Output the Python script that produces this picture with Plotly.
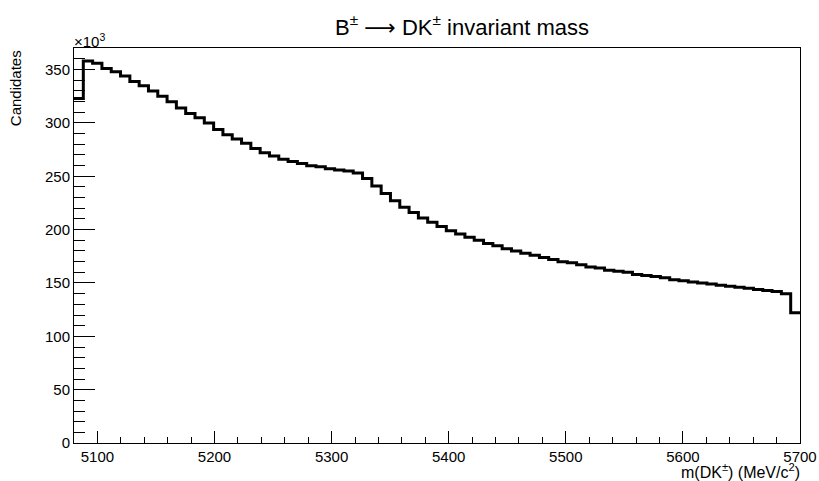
import plotly.graph_objects as go

# B -> DK invariant mass histogram, counts in units of 10^3 per bin
mass_lo = 5080
mass_hi = 5700
n_bins = 78

candidates_k = [
    323, 358, 356, 351, 348, 344, 339, 335, 330, 325,
    320, 314, 309, 305, 300, 294, 289, 285, 281, 276,
    272, 269, 266, 264, 262, 260, 259, 257, 256, 255,
    253, 248, 241, 234, 227, 221, 216, 211, 207, 203,
    199, 196, 193, 190, 187, 185, 182, 180, 178, 176,
    174, 172, 170, 169, 167, 165, 164, 162, 161, 160,
    158, 157, 156, 155, 153, 152, 151, 150, 149, 148,
    147, 146, 145, 144, 143, 142, 140, 122,
]

x_ticks = [5100, 5200, 5300, 5400, 5500, 5600, 5700]
y_ticks = [0, 50, 100, 150, 200, 250, 300, 350]

FONT = "Liberation Sans, Arial, sans-serif"
W, H = 819, 481


def main():
    width = (mass_hi - mass_lo) / n_bins
    edges = [mass_lo + i * width for i in range(n_bins + 1)]
    steps = candidates_k + [candidates_k[-1]]

    fig = go.Figure()
    fig.add_trace(go.Scatter(x=edges, y=steps, mode="lines",
                             line=dict(color="black", width=3, shape="hv"),
                             hoverinfo="skip", showlegend=False))

    arrow = '<span style="font-family:DejaVu Sans">⟶</span>'
    fig.update_layout(
        width=W, height=H,
        margin=dict(l=73.6, r=19, t=48.3, b=37.7),
        paper_bgcolor="white", plot_bgcolor="white",
        font=dict(family=FONT, color="black", size=15),
        title=dict(text="B<sup>±</sup> " + arrow + " DK<sup>±</sup> invariant mass",
                   x=462 / W, xanchor="center", y=1 - 27 / H,
                   yanchor="middle", font=dict(size=22)),
    )
    fig.update_xaxes(range=[mass_lo, mass_hi], tickvals=x_ticks,
                     automargin=False,
                     ticks="inside", ticklen=12, tickcolor="black",
                     showline=True, linecolor="black", linewidth=1,
                     mirror=True, showgrid=False, zeroline=False,
                     minor=dict(dtick=20, ticks="inside", ticklen=6,
                                tickcolor="black", showgrid=False))
    fig.update_yaxes(range=[0, 370.3], tickvals=y_ticks,
                     automargin=False,
                     ticks="inside", ticklen=21, tickcolor="black",
                     showline=True, linecolor="black", linewidth=1,
                     mirror=True, showgrid=False, zeroline=False,
                     minor=dict(dtick=10, ticks="inside", ticklen=11,
                                tickcolor="black", showgrid=False))

    fig.add_annotation(text="m(DK<sup>±</sup>) (MeV/c<sup>2</sup>)",
                       xref="paper", yref="paper", x=1.003, y=-0.072,
                       xanchor="right", yanchor="middle", showarrow=False,
                       font=dict(size=16))
    fig.add_annotation(text="Candidates", textangle=-90,
                       xref="paper", yref="paper", x=-0.081, y=1.0,
                       xanchor="center", yanchor="top", showarrow=False,
                       font=dict(size=15))
    fig.add_annotation(text="×10<sup>3</sup>",
                       xref="paper", yref="paper", x=-0.003, y=1.02,
                       xanchor="left", yanchor="middle", showarrow=False,
                       font=dict(size=15))

    # drop the default 8px body margin so the figure sits at the page corner
    fig.write_html("out.html", config={"displayModeBar": False},
                   post_script="document.body.style.margin='0';"
                               "document.body.style.overflow='hidden';")


if __name__ == "__main__":
    main()
